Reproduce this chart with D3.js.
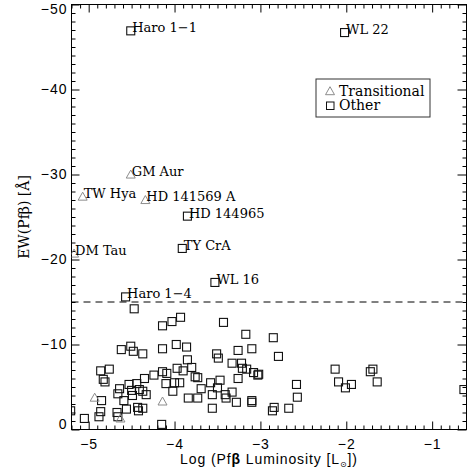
<!DOCTYPE html>
<html>
<head>
<meta charset="utf-8">
<script src="https://cdn.jsdelivr.net/npm/d3@7"></script>
<style>
body { margin: 0; background: #fff; }
svg { display: block; }
</style>
</head>
<body>
<svg width="467" height="472"></svg>
<script>
// "Other" sources: log Pf-beta luminosity vs EW(Pf-beta). First entries carry names.
var otherX = [-4.51, -2.02, -3.85, -3.91, -3.53, -4.57,
    -4.47, -4.14, -4.03, -3.93, -4.62, -4.51, -4.48, -4.37, -4.14, -4.86,
    -4.76, -4.83, -4.81, -4.64, -4.66, -4.53, -4.44, -4.35, -4.24, -4.14,
    -4.50, -4.41, -4.37, -4.33, -4.49, -4.59, -4.85, -4.86, -4.88, -4.67,
    -4.66, -4.56, -4.43, -4.42, -4.37, -5.05, -5.21, -4.15, -3.43, -3.17,
    -3.26, -3.10, -3.98, -3.86, -3.51, -3.49, -3.85, -3.80, -3.97, -3.90,
    -4.09, -3.76, -3.73, -4.00, -3.94, -4.10, -4.02, -3.69, -3.58, -3.47,
    -3.50, -3.56, -3.41, -3.33, -3.28, -3.40, -3.84, -3.73, -3.56, -3.33,
    -3.22, -3.21, -3.16, -3.08, -3.03, -3.26, -3.10, -3.10, -2.85, -2.79,
    -3.02, -2.58, -2.57, -2.84, -2.86, -2.67, -2.13, -2.09, -2.01, -1.94,
    -1.72, -1.69, -1.64, -0.63];
var otherY = [-46.9, -46.7, -25.1, -21.3, -17.3, -15.6,
    -14.2, -12.2, -12.7, -13.2, -9.4, -9.8, -9.2, -8.9, -9.5, -6.9,
    -7.1, -5.9, -5.6, -4.8, -4.2, -5.3, -5.4, -6.0, -6.4, -6.8,
    -4.6, -4.7, -4.5, -4.1, -4.0, -3.4, -3.4, -2.1, -1.5, -2.0,
    -1.5, -2.4, -2.6, -2.2, -2.5, -1.3, -2.2, -0.6, -12.6, -11.2,
    -9.3, -9.5, -10.0, -9.7, -8.9, -8.4, -8.2, -7.3, -7.2, -6.9,
    -6.6, -6.2, -6.1, -5.5, -5.5, -5.4, -4.5, -4.8, -5.5, -5.8,
    -4.9, -4.1, -4.1, -4.4, -3.2, -3.7, -3.7, -3.7, -2.5, -7.8,
    -7.8, -7.2, -7.1, -6.7, -6.4, -6.0, -3.4, -3.2, -10.8, -8.6,
    -6.5, -5.3, -3.8, -2.6, -2.2, -2.5, -7.1, -5.6, -4.9, -5.3,
    -6.8, -7.1, -5.6, -4.7];
var otherNames = ["Haro 1\u22121", "WL 22", "HD 144965", "TY CrA", "WL 16", "Haro 1\u22124"];

// Transitional disks
var transX = [-4.51, -5.07, -4.34, -5.17, -4.93, -4.63, -4.14];
var transY = [-29.9, -27.3, -26.9, -20.6, -3.65, -1.2, -3.2];
var transNames = ["GM Aur", "TW Hya", "HD 141569 A", "DM Tau"];

var xTicks = [-5, -4, -3, -2, -1];
var yTicks = [-50, -40, -30, -20, -10, 0];
var cutEW = -15;

var svg = d3.select("svg");
var pLeft = 71.5, pRight = 466.5, pTop = 4.5, pBottom = 429.5;

var x = d3.scaleLinear().domain([-5.2, -0.6]).range([pLeft, pRight]);
var y = d3.scaleLinear().domain([0, -50]).range([pBottom, pTop]);

var sans = "'Liberation Sans', Arial, sans-serif";
var serif = "'DejaVu Serif', serif";
var fmt = d3.format("d");

var xMinor = d3.range(-52, -5).map(function(d) { return d / 10; }).filter(function(d) { return xTicks.indexOf(d) < 0; });
var yMinor = d3.range(-50, 1).filter(function(d) { return yTicks.indexOf(d) < 0; });

function styleAxis(g) {
    g.select(".domain").remove();
    g.selectAll("line").attr("stroke", "#000").attr("stroke-width", 1);
}

// minor ticks on all sides
svg.append("g").attr("transform", "translate(0," + pBottom + ")")
    .call(d3.axisBottom(x).tickValues(xMinor).tickSize(-4).tickFormat(""))
    .call(styleAxis);
svg.append("g").attr("transform", "translate(0," + pTop + ")")
    .call(d3.axisTop(x).tickValues(xMinor).tickSize(-4).tickFormat(""))
    .call(styleAxis);
svg.append("g").attr("transform", "translate(" + pLeft + ",0)")
    .call(d3.axisLeft(y).tickValues(yMinor).tickSize(-4).tickFormat(""))
    .call(styleAxis);
svg.append("g").attr("transform", "translate(" + pRight + ",0)")
    .call(d3.axisRight(y).tickValues(yMinor).tickSize(-4).tickFormat(""))
    .call(styleAxis);

// major ticks
var xAxis = svg.append("g").attr("transform", "translate(0," + pBottom + ")")
    .call(d3.axisBottom(x).tickValues(xTicks).tickSize(-8).tickPadding(10).tickFormat(fmt))
    .call(styleAxis);
svg.append("g").attr("transform", "translate(0," + pTop + ")")
    .call(d3.axisTop(x).tickValues(xTicks).tickSize(-8).tickFormat(""))
    .call(styleAxis);
var yAxis = svg.append("g").attr("transform", "translate(" + pLeft + ",0)")
    .call(d3.axisLeft(y).tickValues(yTicks).tickSize(-8).tickPadding(4).tickFormat(fmt))
    .call(styleAxis);
svg.append("g").attr("transform", "translate(" + pRight + ",0)")
    .call(d3.axisRight(y).tickValues(yTicks).tickSize(-9).tickFormat(""))
    .call(styleAxis);

xAxis.selectAll("text")
    .attr("font-family", sans).attr("font-size", 14).attr("letter-spacing", 1)
    .attr("fill", "#000");
yAxis.selectAll("text")
    .attr("font-family", sans).attr("font-size", 14).attr("letter-spacing", 1)
    .attr("fill", "#000")
    .attr("y", function(d) {
        var p = Math.max(pTop + 4.5, Math.min(pBottom - 5, y(d)));
        return p - y(d);
    });

// frame
svg.append("rect")
    .attr("x", pLeft).attr("y", pTop)
    .attr("width", pRight - pLeft).attr("height", pBottom - pTop)
    .attr("fill", "none").attr("stroke", "#000").attr("stroke-width", 1);

// dashed cut
svg.append("line")
    .attr("x1", pLeft).attr("x2", pRight)
    .attr("y1", y(cutEW)).attr("y2", y(cutEW))
    .attr("stroke", "#000").attr("stroke-width", 1)
    .attr("stroke-dasharray", "7,5");

svg.append("clipPath").attr("id", "plotclip")
    .append("rect")
    .attr("x", pLeft).attr("y", pTop)
    .attr("width", pRight - pLeft).attr("height", pBottom - pTop);

var plot = svg.append("g").attr("clip-path", "url(#plotclip)");

var tri = "M0,-5.3L4.5,2.7L-4.5,2.7Z";

plot.selectAll("rect.other")
    .data(otherX)
    .enter()
    .append("rect")
    .attr("class", "other")
    .attr("x", function(d) { return x(d) - 4; })
    .attr("y", function(d, i) { return y(otherY[i]) - 4; })
    .attr("width", 8).attr("height", 8)
    .attr("fill", "none")
    .attr("stroke", "#111").attr("stroke-width", 1.1);

plot.selectAll("path.trans")
    .data(transX)
    .enter()
    .append("path")
    .attr("class", "trans")
    .attr("d", tri)
    .attr("transform", function(d, i) { return "translate(" + x(d) + "," + y(transY[i]) + ")"; })
    .attr("fill", "none")
    .attr("stroke", "#8c8c8c").attr("stroke-width", 1);

// names
svg.selectAll("text.oname")
    .data(otherNames)
    .enter()
    .append("text")
    .attr("class", "oname")
    .attr("x", function(d, i) { return x(otherX[i]) + 1.5; })
    .attr("y", function(d, i) { return y(otherY[i]) + 1.5; })
    .attr("font-family", serif).attr("font-size", 13)
    .text(function(d) { return d; });

svg.selectAll("text.tname")
    .data(transNames)
    .enter()
    .append("text")
    .attr("class", "tname")
    .attr("x", function(d, i) { return x(transX[i]) + 1; })
    .attr("y", function(d, i) { return y(transY[i]) + 0.5; })
    .attr("font-family", serif).attr("font-size", 13)
    .text(function(d) { return d; });

// legend
var leg = svg.append("g").attr("transform", "translate(316,79)");
leg.append("rect")
    .attr("width", 114).attr("height", 38)
    .attr("fill", "#fff").attr("stroke", "#333").attr("stroke-width", 1);
leg.append("path").attr("d", tri)
    .attr("transform", "translate(14,13)")
    .attr("fill", "none").attr("stroke", "#8c8c8c");
leg.append("text").attr("x", 23).attr("y", 17)
    .attr("font-family", serif).attr("font-size", 14)
    .text("Transitional");
leg.append("rect").attr("x", 10.5).attr("y", 23).attr("width", 7.5).attr("height", 7.5)
    .attr("fill", "none").attr("stroke", "#111");
leg.append("text").attr("x", 23).attr("y", 31)
    .attr("font-family", serif).attr("font-size", 14)
    .text("Other");

// axis titles
var xt = svg.append("text")
    .attr("x", (pLeft + pRight) / 2).attr("y", 464)
    .attr("text-anchor", "middle")
    .attr("font-family", sans).attr("font-size", 14).attr("letter-spacing", 0.9);
xt.append("tspan").text("Log (Pf");
xt.append("tspan").attr("font-weight", "bold").text("\u03b2");
xt.append("tspan").text(" Luminosity [L");
xt.append("tspan").attr("font-size", 8).attr("dy", 3).attr("font-family", "'DejaVu Sans'").text("\u2299");
xt.append("tspan").attr("dy", -3).text("])");

svg.append("text")
    .attr("transform", "translate(29," + ((pTop + pBottom) / 2) + ") rotate(-90)")
    .attr("text-anchor", "middle")
    .attr("font-family", serif).attr("font-size", 14)
    .text("EW(Pf\u03b2) [\u00c5]");
</script>
</body>
</html>
